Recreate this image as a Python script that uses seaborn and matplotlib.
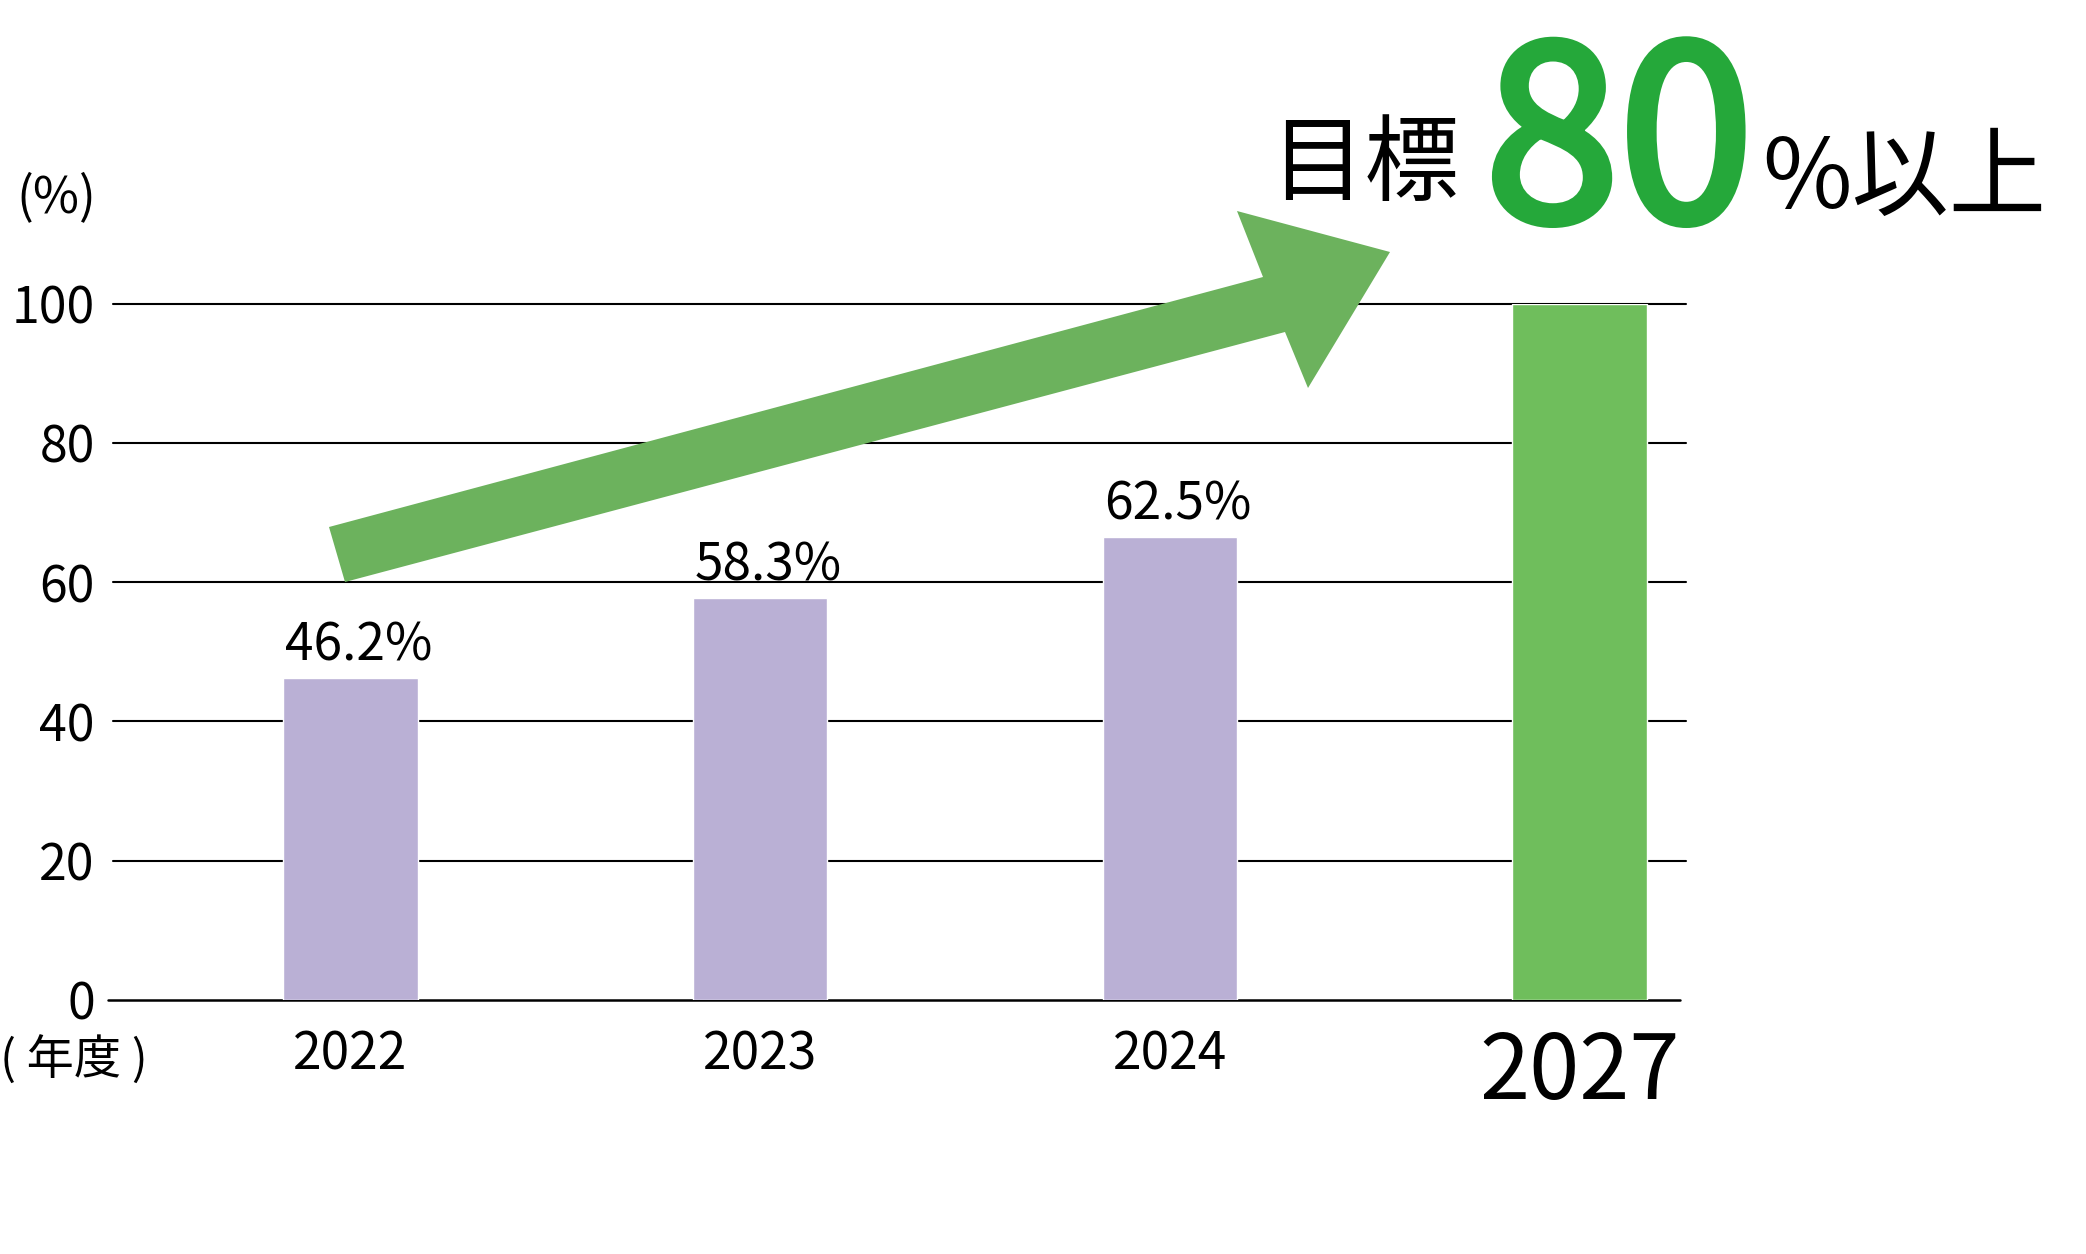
import matplotlib
matplotlib.use("Agg")
import matplotlib.pyplot as plt
import matplotlib.patheffects as pe
import seaborn as sns
import pandas as pd
from matplotlib.patches import Polygon

# ---- data ----
years = ["2022", "2023", "2024", "2027"]
rates = [46.2, 57.7, 66.5, 100.0]          # bar heights as drawn
kinds = ["actual", "actual", "actual", "target"]
value_labels = ["46.2%", "58.3%", "62.5%", ""]
yticks = [0, 20, 40, 60, 80, 100]
target_value = "80"

sns.set_theme(style="white")
plt.rcParams["font.family"] = ["Noto Sans CJK JP", "DejaVu Sans"]
plt.rcParams.update({"text.color": "black", "xtick.color": "black",
                     "ytick.color": "black", "axes.labelcolor": "black"})

W, H = 2086, 1254
fig = plt.figure(figsize=(W / 100, H / 100), dpi=100)
ax_left, ax_right, ax_top, ax_bottom = 113, 1686, 303.5, 1000
ax = fig.add_axes([ax_left / W, 1 - ax_bottom / H,
                   (ax_right - ax_left) / W, (ax_bottom - ax_top) / H])

df = pd.DataFrame({"year": years, "rate": rates, "kind": kinds})
sns.barplot(data=df, x="year", y="rate", hue="kind", dodge=False,
            palette={"actual": "#bab0d5", "target": "#6fbe5c"},
            width=0.328, saturation=1, legend=False, ax=ax, zorder=2)

ax.set_xlim(-0.58, 3.26)
ax.set_ylim(0, 100)

for y in yticks[1:]:
    ax.axhline(y, color="black", lw=1.5, zorder=1, clip_on=False)
ax.axhline(0, xmin=-0.003, xmax=0.996, color="black", lw=1.8, zorder=1, clip_on=False)

# value labels
bars = sorted([p for p in ax.patches if p.get_height() > 0], key=lambda p: p.get_x())
for p, lab in zip(bars, value_labels):
    if lab:
        ax.annotate(lab, (p.get_x() + p.get_width() / 2, p.get_height()),
                    xytext=(6, 4), textcoords="offset points",
                    ha="center", va="bottom", fontsize=37)

ax.set_yticks(yticks)
ax.set_yticklabels([str(t) for t in yticks], fontsize=36)
ax.tick_params(axis="y", length=0, pad=13)
ax.tick_params(axis="x", length=0, pad=20, labelsize=37)
ax.get_xticklabels()[-1].set_fontsize(65)
ax.set_xlabel("")
ax.set_ylabel("")
for s in ax.spines.values():
    s.set_visible(False)

fig.text(16 / W, 1 - 198 / H, "(%)", ha="left", va="center", fontsize=36)
fig.text(0 / W, 1 - 1061 / H, "( 年度 )", ha="left", va="center", fontsize=34)

# headline
green = "#25a83a"
fig.text(1270 / W, 0.846, "目標", ha="left", va="baseline", fontsize=68)
fig.text(1485 / W, 0.824, target_value, ha="left", va="baseline", fontsize=174,
         color=green,
         path_effects=[pe.withStroke(linewidth=6, foreground=green)])
fig.text(1762 / W, 0.834, "%以上", ha="left", va="baseline", fontsize=70)

# upward arrow (pixel outline, top-left origin)
arrow_px = [(329, 527), (1263, 277), (1237, 211), (1390, 252),
            (1308, 388), (1285, 332), (345, 582)]
arrow = Polygon([(x / W, 1 - y / H) for x, y in arrow_px], closed=True,
                facecolor="#6cb25d", edgecolor="none", transform=fig.transFigure)
fig.add_artist(arrow)

fig.savefig("out.png", dpi=100)
